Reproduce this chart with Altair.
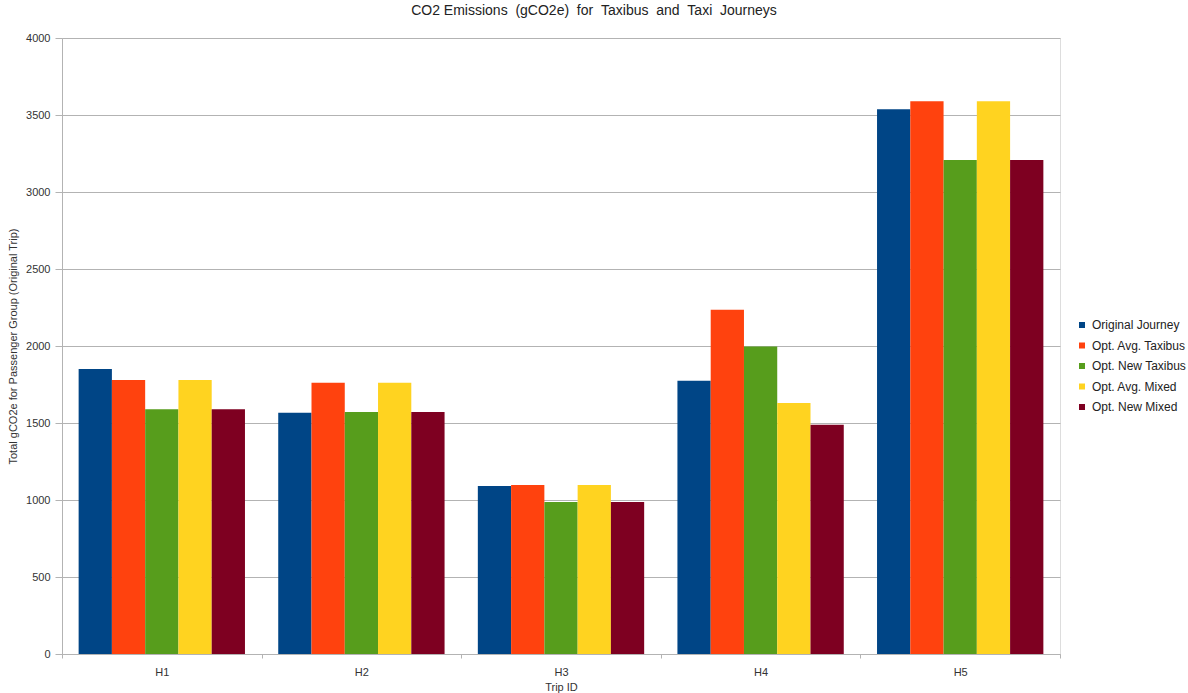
import altair as alt
import pandas as pd

trips = ["H1", "H2", "H3", "H4", "H5"]
series = ["Original Journey", "Opt. Avg. Taxibus", "Opt. New Taxibus", "Opt. Avg. Mixed", "Opt. New Mixed"]
colors = ["#004586", "#ff420e", "#579d1c", "#ffd320", "#7e0021"]

original_journey = [1850, 1567, 1091, 1775, 3537]
opt_avg_taxibus = [1779, 1762, 1097, 2236, 3590]
opt_new_taxibus = [1590, 1572, 987, 1996, 3208]
opt_avg_mixed = [1779, 1762, 1097, 1630, 3590]
opt_new_mixed = [1590, 1572, 987, 1488, 3208]

values = [original_journey, opt_avg_taxibus, opt_new_taxibus, opt_avg_mixed, opt_new_mixed]
rows = []
for s, vals in zip(series, values):
    for t, v in zip(trips, vals):
        rows.append({"Trip": t, "Series": s, "Value": v})
df = pd.DataFrame(rows)

font = "Liberation Sans"
sp = " \u00a0"
title_text = f"CO2 Emissions{sp}(gCO2e){sp}for{sp}Taxibus{sp}and{sp}Taxi{sp}Journeys"

chart = alt.Chart(df).mark_bar().encode(
    x=alt.X("Trip:N", sort=trips,
            scale=alt.Scale(paddingInner=0, paddingOuter=0),
            axis=alt.Axis(title="Trip ID", labelAngle=0, tickBand="extent",
                          grid=False, domainColor="#b3b3b3", tickColor="#b3b3b3",
                          tickSize=4, labelPadding=8, labelFontSize=11,
                          labelColor="#333333", titleFontSize=11, titleFontWeight="normal",
                          titleColor="#333333", titlePadding=4, labelFont=font, titleFont=font)),
    xOffset=alt.XOffset("Series:N", sort=series, scale=alt.Scale(paddingInner=0, paddingOuter=0.5)),
    y=alt.Y("Value:Q", scale=alt.Scale(domain=[0, 4000]),
            axis=alt.Axis(title="Total gCO2e for Passenger Group (Original Trip)",
                          values=list(range(0, 4001, 500)), format="d",
                          gridColor="#b3b3b3", domainColor="#b3b3b3", tickColor="#b3b3b3",
                          tickSize=7, labelPadding=5, labelFontSize=11, labelColor="#333333",
                          labelFont=font, titleFont=font, titleFontSize=11,
                          titleFontWeight="normal", titleColor="#333333",
                          titleX=-49, titleY=308, titleAngle=-90, titleAlign="center",
                          titleBaseline="middle")),
    color=alt.Color("Series:N", sort=series,
                    scale=alt.Scale(domain=series, range=colors),
                    legend=alt.Legend(title=None, orient="none", legendX=1014, legendY=281,
                                      symbolType="square", symbolSize=36, symbolStrokeWidth=0,
                                      labelFontSize=12, labelColor="#222222", labelFont=font,
                                      rowPadding=8.5, labelOffset=4)),
).properties(
    width=998, height=616,
    title=alt.TitleParams(title_text,
                          font=font, fontSize=14, fontWeight="normal", color="#222222",
                          anchor="middle", dx=33, offset=14),
    autosize=alt.AutoSizeParams(type="none"),
    padding={"left": 62, "top": 38, "right": 128, "bottom": 39},
).configure_view(stroke="#b3b3b3", strokeWidth=1).configure(background="white")

chart.save("out.html", embed_options={"renderer": "svg", "actions": False})
